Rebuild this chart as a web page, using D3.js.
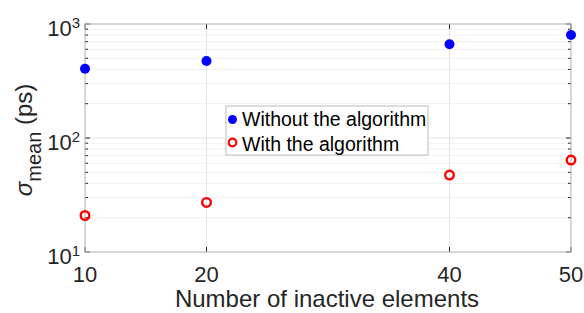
<!DOCTYPE html>
<html>
<head>
<meta charset="utf-8">
<script src="https://cdn.jsdelivr.net/npm/d3@7"></script>
<style>
body { margin: 0; background: #fff; }
text { font-family: "Liberation Sans", Arial, sans-serif; fill: #262626; }
</style>
</head>
<body>
<div id="chart"></div>
<script>
// data
var elements = [10, 20, 40, 50];
var without = [405, 473, 664, 801];
var withAlg = [20.9, 27.2, 47.3, 64.1];
var xTicks = [10, 20, 40, 50];
var yTicks = [10, 100, 1000];
var seriesNames = ["Without the algorithm", "With the algorithm"];

var width = 584, height = 313;
var m = {left: 85, right: 13, top: 24, bottom: 61};

var svg = d3.select("#chart").append("svg")
	.attr("width", width)
	.attr("height", height);

var x = d3.scaleLinear().domain([10, 50]).range([m.left, width - m.right]);
var y = d3.scaleLog().domain([10, 1000]).range([height - m.bottom, m.top]);

var x0 = m.left, x1 = width - m.right, y0 = height - m.bottom, y1 = m.top;

// minor values for log axis
var minor = [];
[10, 100].forEach(function(d) {
	for (var k = 2; k <= 9; k++) minor.push(d * k);
});

// grid
var grid = svg.append("g");
grid.selectAll(".mn").data(minor).enter().append("line")
	.attr("x1", x0).attr("x2", x1)
	.attr("y1", function(d) { return y(d); }).attr("y2", function(d) { return y(d); })
	.attr("stroke", "#f0f0f0").attr("stroke-width", 1);
grid.selectAll(".mj").data(yTicks).enter().append("line")
	.attr("x1", x0).attr("x2", x1)
	.attr("y1", function(d) { return y(d); }).attr("y2", function(d) { return y(d); })
	.attr("stroke", "#e4e4e4").attr("stroke-width", 1);
grid.selectAll(".vx").data(xTicks).enter().append("line")
	.attr("x1", function(d) { return x(d); }).attr("x2", function(d) { return x(d); })
	.attr("y1", y0).attr("y2", y1)
	.attr("stroke", "#e4e4e4").attr("stroke-width", 1);

// ticks inward on all four sides
var tk = svg.append("g").attr("stroke", "#262626").attr("stroke-width", 1);
xTicks.forEach(function(d) {
	tk.append("line").attr("x1", x(d)).attr("x2", x(d)).attr("y1", y0).attr("y2", y0 - 5);
	tk.append("line").attr("x1", x(d)).attr("x2", x(d)).attr("y1", y1).attr("y2", y1 + 5);
});
yTicks.forEach(function(d) {
	tk.append("line").attr("x1", x0).attr("x2", x0 + 5).attr("y1", y(d)).attr("y2", y(d));
	tk.append("line").attr("x1", x1).attr("x2", x1 - 5).attr("y1", y(d)).attr("y2", y(d));
});
minor.forEach(function(d) {
	tk.append("line").attr("x1", x0).attr("x2", x0 + 3).attr("y1", y(d)).attr("y2", y(d));
	tk.append("line").attr("x1", x1).attr("x2", x1 - 3).attr("y1", y(d)).attr("y2", y(d));
});

// frame
svg.append("rect")
	.attr("x", x0).attr("y", y1)
	.attr("width", x1 - x0).attr("height", y0 - y1)
	.attr("fill", "none").attr("stroke", "#bcbcbc").attr("stroke-width", 1);

// x tick labels
svg.selectAll(".xl").data(xTicks).enter().append("text")
	.attr("x", function(d) { return x(d); })
	.attr("y", y0 + 30)
	.attr("text-anchor", "middle")
	.attr("font-size", 22)
	.text(function(d) { return d; });

// y tick labels: 10^n
yTicks.forEach(function(d) {
	var t = svg.append("text")
		.attr("x", x0 - 5)
		.attr("y", y(d) + 12)
		.attr("text-anchor", "end")
		.attr("font-size", 22);
	t.append("tspan").text("10");
	t.append("tspan").attr("dy", -8).attr("font-size", 15).text(Math.round(Math.log10(d)));
});

// axis labels
svg.append("text")
	.attr("x", (x0 + x1) / 2 - 1)
	.attr("y", 307)
	.attr("text-anchor", "middle")
	.attr("font-size", 24)
	.text("Number of inactive elements");

var yl = svg.append("text")
	.attr("transform", "translate(32," + ((y0 + y1) / 2 + 2) + ") rotate(-90)")
	.attr("text-anchor", "middle")
	.attr("font-size", 24);
yl.append("tspan").attr("font-style", "italic").text("\u03c3");
yl.append("tspan").attr("dy", 9).attr("font-size", 20).text("mean");
yl.append("tspan").attr("dy", -9).text(" (ps)");

// points
svg.selectAll(".p1").data(elements).enter().append("circle")
	.attr("cx", function(d) { return x(d); })
	.attr("cy", function(d, i) { return y(without[i]); })
	.attr("r", 5)
	.attr("fill", "#0000ff");

svg.selectAll(".p2").data(elements).enter().append("circle")
	.attr("cx", function(d) { return x(d); })
	.attr("cy", function(d, i) { return y(withAlg[i]); })
	.attr("r", 4.3)
	.attr("fill", "none")
	.attr("stroke", "#ff0000")
	.attr("stroke-width", 2.4);

// legend
var lg = svg.append("g").attr("transform", "translate(226,106)");
lg.append("rect").attr("width", 202).attr("height", 49)
	.attr("fill", "#fff").attr("stroke", "#bcbcbc").attr("stroke-width", 1);
lg.append("circle").attr("cx", 6.5).attr("cy", 13.5).attr("r", 4.5).attr("fill", "#0000ff");
lg.append("circle").attr("cx", 6.5).attr("cy", 36.5).attr("r", 3.8)
	.attr("fill", "none").attr("stroke", "#ff0000").attr("stroke-width", 2.2);
lg.selectAll(".lt").data(seriesNames).enter().append("text")
	.attr("x", 16)
	.attr("y", function(d, i) { return 20 + i * 24.5; })
	.attr("font-size", 19.5)
	.style("fill", "#000")
	.text(function(d) { return d; });
</script>
</body>
</html>
